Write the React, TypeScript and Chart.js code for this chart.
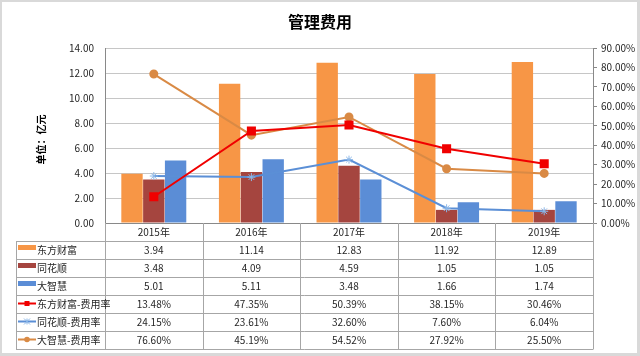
import React, { useEffect, useRef } from "react";
import { Chart, registerables } from "chart.js";

Chart.register(...registerables);

const categories = ["2015年", "2016年", "2017年", "2018年", "2019年"];
const dfcfCost = [3.94, 11.14, 12.83, 11.92, 12.89];
const thsCost = [3.48, 4.09, 4.59, 1.05, 1.05];
const dzhCost = [5.01, 5.11, 3.48, 1.66, 1.74];
const dfcfRate = [13.48, 47.35, 50.39, 38.15, 30.46];
const thsRate = [24.15, 23.61, 32.6, 7.6, 6.04];
const dzhRate = [76.6, 45.19, 54.52, 27.92, 25.5];
const yAxisTitle = "单位：亿元";

const FONT = "'Noto Sans CJK SC', 'Noto Sans', sans-serif";
const C_ORANGE = "#F79646";
const C_RED_BROWN = "#A5453F";
const C_BLUE = "#5B8DD6";
const C_RED = "#F00000";
const C_LBLUE_LINE = "#5B8FD6";
const C_LBLUE_MARK = "#8DB8E8";
const C_BROWN_ORANGE = "#D98A45";

type Row = {
  label: string;
  kind: "bar" | "line";
  color: string;
  markColor?: string;
  marker?: string;
  values: string[];
};

const rows: Row[] = [
  { label: "东方财富", kind: "bar", color: C_ORANGE, values: dfcfCost.map((v) => v.toFixed(2)) },
  { label: "同花顺", kind: "bar", color: C_RED_BROWN, values: thsCost.map((v) => v.toFixed(2)) },
  { label: "大智慧", kind: "bar", color: C_BLUE, values: dzhCost.map((v) => v.toFixed(2)) },
  { label: "东方财富-费用率", kind: "line", color: C_RED, markColor: C_RED, marker: "rect", values: dfcfRate.map((v) => v.toFixed(2) + "%") },
  { label: "同花顺-费用率", kind: "line", color: C_LBLUE_LINE, markColor: C_LBLUE_MARK, marker: "star", values: thsRate.map((v) => v.toFixed(2) + "%") },
  { label: "大智慧-费用率", kind: "line", color: C_BROWN_ORANGE, markColor: C_BROWN_ORANGE, marker: "circle", values: dzhRate.map((v) => v.toFixed(2) + "%") },
];

const framePlugin = {
  id: "frame",
  beforeDraw(chart: any) {
    const { ctx, width, height } = chart;
    ctx.save();
    ctx.fillStyle = "#D9D9D9";
    ctx.fillRect(0, 0, width, height);
    ctx.fillStyle = "#FFFFFF";
    ctx.fillRect(2, 2, width - 5, height - 5);
    ctx.restore();
  },
};

const tablePlugin = {
  id: "dataTable",
  afterDraw(chart: any) {
    const { ctx, chartArea } = chart;
    const x = chart.scales.x;
    const n = categories.length;
    const centers = categories.map((_, i) => x.getPixelForValue(i));
    const bounds: number[] = [chartArea.left];
    for (let i = 0; i < n - 1; i++) bounds.push((centers[i] + centers[i + 1]) / 2);
    bounds.push(chartArea.right);
    const headerH = 18;
    const rowH = 18;
    const tableLeft = 16;
    const tableTop = chartArea.bottom + headerH;
    const tableBottom = tableTop + rowH * rows.length;

    ctx.save();
    // y-axis title
    ctx.save();
    ctx.translate(41, (chartArea.top + chartArea.bottom) / 2 + 4);
    ctx.rotate(-Math.PI / 2);
    ctx.font = `bold 10px ${FONT}`;
    ctx.fillStyle = "#000000";
    ctx.textAlign = "center";
    ctx.textBaseline = "middle";
    ctx.fillText(yAxisTitle, 0, 0);
    ctx.restore();

    ctx.strokeStyle = "#A6A6A6";
    ctx.lineWidth = 1;
    bounds.forEach((b) => {
      const bx = Math.round(b) + 0.5;
      ctx.beginPath();
      ctx.moveTo(bx, chartArea.bottom);
      ctx.lineTo(bx, tableBottom);
      ctx.stroke();
    });
    ctx.beginPath();
    ctx.moveTo(tableLeft + 0.5, tableTop);
    ctx.lineTo(tableLeft + 0.5, tableBottom);
    ctx.stroke();
    for (let r = 0; r <= rows.length; r++) {
      const y = Math.round(tableTop + r * rowH) + 0.5;
      ctx.beginPath();
      ctx.moveTo(tableLeft, y);
      ctx.lineTo(chartArea.right + 0.5, y);
      ctx.stroke();
    }

    ctx.font = `10px ${FONT}`;
    ctx.textBaseline = "middle";
    rows.forEach((row, r) => {
      const top = tableTop + r * rowH;
      const cy = top + rowH / 2 + 0.5;
      if (row.kind === "bar") {
        ctx.fillStyle = row.color;
        ctx.fillRect(18, top + 4, 18, 5);
      } else {
        ctx.strokeStyle = row.color;
        ctx.lineWidth = 2;
        ctx.beginPath();
        ctx.moveTo(18, cy - 1);
        ctx.lineTo(36, cy - 1);
        ctx.stroke();
        ctx.fillStyle = row.markColor;
        ctx.strokeStyle = row.markColor;
        ctx.lineWidth = 1;
        if (row.marker === "rect") {
          ctx.fillRect(24.5, cy - 3.5, 5, 5);
        } else if (row.marker === "circle") {
          ctx.beginPath();
          ctx.arc(27, cy - 1, 2.8, 0, Math.PI * 2);
          ctx.fill();
        } else {
          ctx.beginPath();
          ctx.moveTo(24, cy - 4);
          ctx.lineTo(30, cy + 2);
          ctx.moveTo(30, cy - 4);
          ctx.lineTo(24, cy + 2);
          ctx.moveTo(27, cy - 4);
          ctx.lineTo(27, cy + 2);
          ctx.stroke();
        }
      }
      ctx.fillStyle = "#262626";
      ctx.textAlign = "left";
      ctx.fillText(row.label, 37, cy);
      ctx.textAlign = "center";
      row.values.forEach((v, i) => ctx.fillText(v, centers[i], cy));
    });
    ctx.restore();
  },
};

export default function App() {
  const ref = useRef<HTMLCanvasElement | null>(null);

  useEffect(() => {
    if (!ref.current) return;
    const tickFont = { family: FONT, size: 10 };
    const chart = new Chart(ref.current, {
      type: "bar",
      data: {
        labels: categories,
        datasets: [
          { type: "bar", label: "东方财富", data: dfcfCost, backgroundColor: C_ORANGE, yAxisID: "y", order: 2 },
          { type: "bar", label: "同花顺", data: thsCost, backgroundColor: C_RED_BROWN, yAxisID: "y", order: 2 },
          { type: "bar", label: "大智慧", data: dzhCost, backgroundColor: C_BLUE, yAxisID: "y", order: 2 },
          {
            type: "line", label: "东方财富-费用率", data: dfcfRate, yAxisID: "y1", order: 1,
            borderColor: C_RED, backgroundColor: C_RED, borderWidth: 2, pointStyle: "rect",
            pointRadius: 5, pointBorderColor: C_RED, pointBackgroundColor: C_RED, tension: 0,
          },
          {
            type: "line", label: "同花顺-费用率", data: thsRate, yAxisID: "y1", order: 1,
            borderColor: C_LBLUE_LINE, backgroundColor: C_LBLUE_MARK, borderWidth: 2, pointStyle: "star",
            pointRadius: 4, pointBorderColor: C_LBLUE_MARK, pointBorderWidth: 1, tension: 0,
          },
          {
            type: "line", label: "大智慧-费用率", data: dzhRate, yAxisID: "y1", order: 1,
            borderColor: C_BROWN_ORANGE, backgroundColor: C_BROWN_ORANGE, borderWidth: 2, pointStyle: "circle",
            pointRadius: 3.5, pointBorderColor: C_BROWN_ORANGE, pointBackgroundColor: C_BROWN_ORANGE, tension: 0,
          },
        ],
      },
      options: {
        responsive: false,
        animation: false,
        layout: { padding: 0 },
        datasets: { bar: { categoryPercentage: 0.67, barPercentage: 0.98 } },
        plugins: {
          legend: { display: false },
          tooltip: { enabled: false },
          title: {
            display: true,
            text: "管理费用",
            color: "#000000",
            font: { family: FONT, size: 16, weight: "bold" },
            padding: { top: 12.4, bottom: 16.4 },
          },
        },
        scales: {
          x: {
            grid: { display: false, drawTicks: false },
            border: { display: true, color: "#898989" },
            ticks: { font: tickFont, color: "#262626", padding: 3, maxRotation: 0 },
            afterFit: (s: any) => { s.height = 133; },
          },
          y: {
            position: "left",
            min: 0,
            max: 14,
            ticks: { stepSize: 2, font: tickFont, color: "#262626", padding: 11, callback: (v: any) => Number(v).toFixed(2) },
            grid: { color: "#C6C6C6", drawTicks: false },
            border: { display: true, color: "#898989" },
            afterFit: (s: any) => { s.width = 105; },
          },
          y1: {
            position: "right",
            min: 0,
            max: 90,
            ticks: { stepSize: 10, font: tickFont, color: "#262626", padding: 4, callback: (v: any) => Number(v).toFixed(2) + "%" },
            grid: { drawOnChartArea: false, drawTicks: true, tickLength: 4, color: "#898989" },
            border: { display: true, color: "#898989" },
            afterFit: (s: any) => { s.width = 47; },
          },
        },
      },
      plugins: [framePlugin, tablePlugin],
    } as any);
    return () => chart.destroy();
  }, []);

  return (
    <div style={{ position: "fixed", left: 0, top: 0, width: 640, height: 356 }}>
      <canvas ref={ref} width={640} height={356} style={{ display: "block" }} />
    </div>
  );
}
